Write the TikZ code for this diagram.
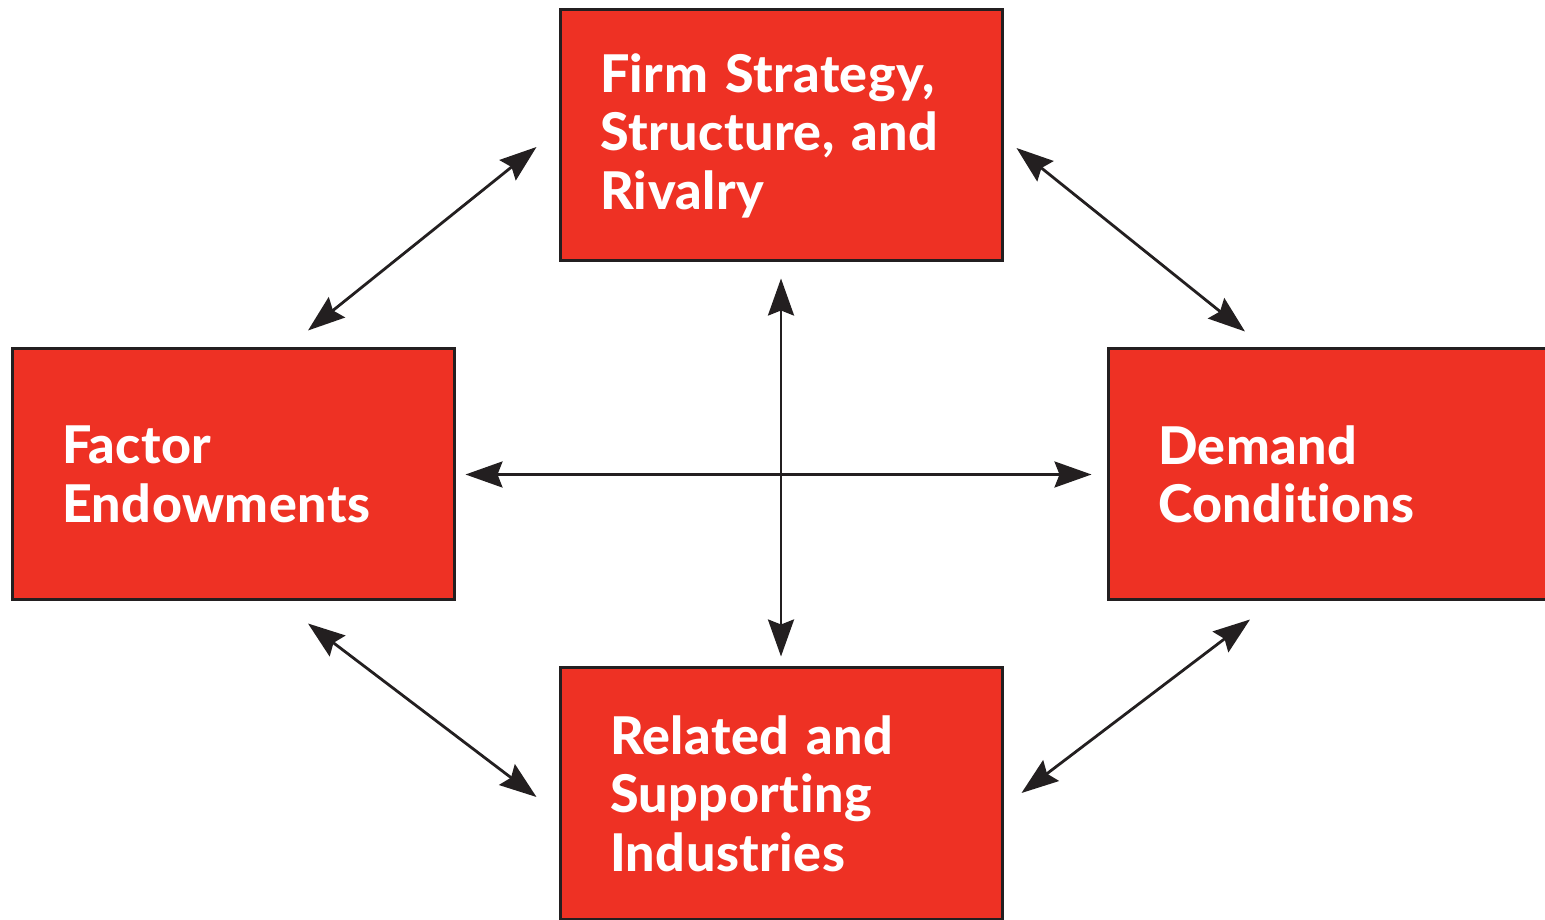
\documentclass[tikz,border=0pt]{standalone}
\usepackage{fontspec}
\setmainfont{Lato}[BoldFont={Lato Heavy}, Ligatures=NoCommon, LetterSpace=1.0]
\usetikzlibrary{arrows.meta, calc, positioning}

\definecolor{boxred}{HTML}{EE3124}
\definecolor{boxedge}{HTML}{231F20}

\tikzset{
    box/.style={draw=boxedge, fill=boxred, line width=3pt, minimum width=442pt,
        minimum height=251pt, inner xsep=50pt, text width=342pt, align=left,
        text=white, font=\fontsize{52}{58.5}\selectfont\bfseries},
    link/.style={{Stealth[length=37pt,width=26pt,inset=5pt]}-{Stealth[length=37pt,width=26pt,inset=5pt]},
        line width=2.8pt, draw=boxedge}
}

\begin{document}
\begin{tikzpicture}[x=1pt, y=1pt]
    % Page frame (pixel units)
    \useasboundingbox (0,0) rectangle (1545,919);

    % --- The four boxes ---
    \node[box, inner xsep=40pt, text width=362pt] (firm) at (781,783.5)
        {Firm Strategy,\\Structure, and\\Rivalry};
    \node[box] (factor) at (233,444.5) {Factor\\Endowments};
    \node[box] (demand) at (1329,444.5) {Demand\\Conditions};
    \node[box] (related) at (781,125.5) {Related and\\Supporting\\Industries};

    % --- Free ends of the diagonal arrows ---
    \coordinate (fl) at ($(firm.west)+(-22,-11.5)$);
    \coordinate (fr) at ($(firm.east)+(13,-12.5)$);
    \coordinate (an) at ($(factor.north)+(75,17)$);
    \coordinate (as) at ($(factor.south)+(75,-22)$);
    \coordinate (dn) at ($(demand.north)+(-84,16)$);
    \coordinate (ds) at ($(demand.south)+(-79,-18)$);
    \coordinate (rl) at ($(related.west)+(-22,-3.5)$);
    \coordinate (rr) at ($(related.east)+(18,0.5)$);

    % Diagonal links
    \draw[link] (an) -- (fl);
    \draw[link] (fr) -- (dn);
    \draw[link] (as) -- (rl);
    \draw[link] (ds) -- (rr);

    % Cross in the middle
    \draw[link] ($(firm.south)+(0,-16)$) -- ($(related.north)+(0,10)$);
    \draw[link] ($(factor.east)+(10,0)$) -- ($(demand.west)+(-15,0)$);
\end{tikzpicture}
\end{document}
